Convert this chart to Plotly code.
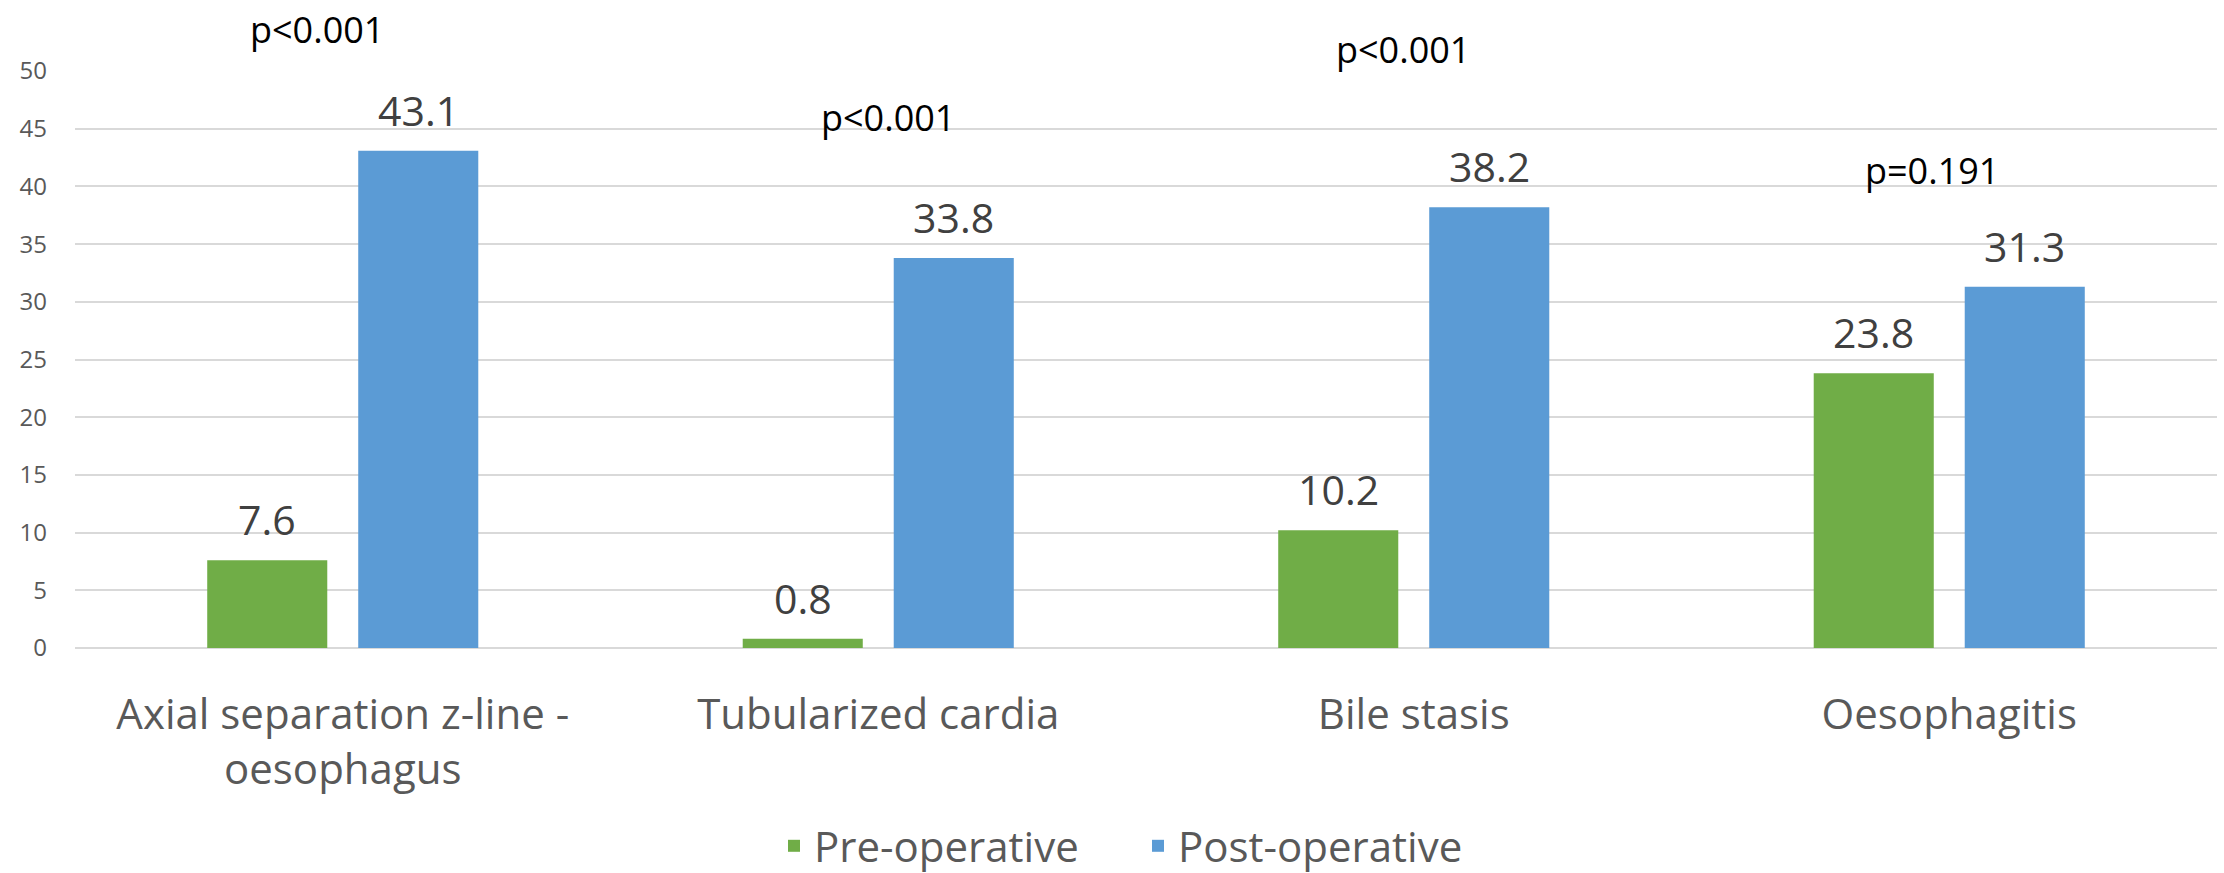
import plotly.graph_objects as go

# ---------------- data ----------------
categories = ["Axial separation z-line -<br>oesophagus", "Tubularized cardia", "Bile stasis", "Oesophagitis"]
pre_operative = [7.6, 0.8, 10.2, 23.8]
post_operative = [43.1, 33.8, 38.2, 31.3]
p_labels = ["p<0.001", "p<0.001", "p<0.001", "p=0.191"]
y_ticks = [0, 5, 10, 15, 20, 25, 30, 35, 40, 45, 50]

# ---------------- style / layout constants ----------------
W, H = 2224, 873
M_L, M_R, M_T, M_B = 75, 7, 71, 225
Y_MAX = 50
BARGAP, BARGROUPGAP = 0.436, 0.205
GREEN, BLUE = "#70AD47", "#5B9BD5"
FONT = "Open Sans"
p_label_level = [53.6, 46.0, 51.9, 41.4]      # vertical placement (axis units) of p-value texts
p_label_xshift = [-26, 10, -11, -17]          # horizontal nudge (px) of p-value texts

plot_w = W - M_L - M_R
cat_px = plot_w / len(categories)
slot_px = (1 - BARGAP) / 2 * cat_px           # distance between the two bar centres

fig = go.Figure()
fig.add_trace(go.Bar(name="Pre-operative", x=categories, y=pre_operative,
                     marker=dict(color=GREEN, line=dict(width=0))))
fig.add_trace(go.Bar(name="Post-operative", x=categories, y=post_operative,
                     marker=dict(color=BLUE, line=dict(width=0))))

annotations = []
for series, sign in ((pre_operative, -1), (post_operative, 1)):
    for cat, v in zip(categories, series):
        annotations.append(dict(
            x=cat, y=v, xref="x", yref="y", text=f"{v:.1f}", showarrow=False,
            xanchor="center", yanchor="bottom", xshift=sign * slot_px / 2, yshift=11,
            font=dict(family=FONT, size=41, color="#404040")))
for cat, txt, lvl, xs in zip(categories, p_labels, p_label_level, p_label_xshift):
    annotations.append(dict(
        x=cat, y=lvl / Y_MAX, xref="x", yref="y domain", text=txt, showarrow=False,
        xanchor="center", yanchor="middle", xshift=xs,
        font=dict(family=FONT, size=36, color="#000000")))

fig.update_layout(
    width=W, height=H,
    margin=dict(l=M_L, r=M_R, t=M_T, b=M_B, pad=0),
    paper_bgcolor="white", plot_bgcolor="white",
    barmode="group", bargap=BARGAP, bargroupgap=BARGROUPGAP,
    font=dict(family=FONT, color="#595959"),
    showlegend=True,
    legend=dict(orientation="h", xref="container", yref="container",
                x=774 / W, xanchor="left", y=1 - 846 / H, yanchor="middle",
                font=dict(family=FONT, size=42, color="#595959"),
                itemwidth=30, entrywidth=319, entrywidthmode="pixels",
                traceorder="normal", bgcolor="rgba(0,0,0,0)"),
    annotations=annotations,
)
fig.update_xaxes(type="category", showgrid=False, showline=False, zeroline=False,
                 ticks="", ticklabelstandoff=38,
                 tickfont=dict(family=FONT, size=42, color="#595959"))
fig.update_yaxes(range=[0, Y_MAX], tickmode="array", tickvals=y_ticks,
                 showgrid=True, gridcolor="#D9D9D9", gridwidth=1.5,
                 zeroline=True, zerolinecolor="#D9D9D9", zerolinewidth=1.5,
                 showline=False, ticks="", ticklabelstandoff=27,
                 tickfont=dict(family=FONT, size=24, color="#595959"))

fig.write_html("out.html")
